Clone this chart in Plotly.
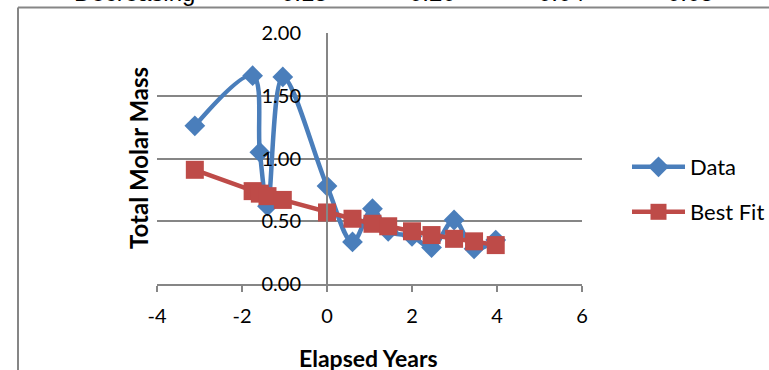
import plotly.graph_objects as go

# Elapsed years and total molar mass per sample
years = [-3.11, -1.75, -1.58, -1.40, -1.04, 0.00, 0.60, 1.07, 1.44, 2.00, 2.46, 2.99, 3.46, 3.97]
molar_mass = [1.26, 1.66, 1.05, 0.62, 1.65, 0.78, 0.335, 0.60, 0.42, 0.38, 0.29, 0.51, 0.28, 0.35]

# Exponential best-fit values at the same elapsed years
best_fit = [0.91, 0.74, 0.72, 0.70, 0.67, 0.57, 0.52, 0.48, 0.46, 0.42, 0.39, 0.36, 0.34, 0.31]

# Summary row of the sheet above the chart
header_cells = ["Decreasing", "0.15", "0.20", "0.04", "0.05"]
header_x_px = [134, 304, 432, 561, 690]

x_ticks = [-4, -2, 0, 2, 4, 6]
y_ticks = [0.0, 0.5, 1.0, 1.5, 2.0]

W, H = 769, 370
L, R, T, B = 157, 187, 33, 86
PW, PH = W - L - R, H - T - B


def px_x(px):
    return (px - L) / PW


def px_y(py):
    return (H - B - py) / PH


BLUE = "#4A7EBB"
RED = "#BE4B48"
GRID = "#868686"
FONT = "Lato"

fig = go.Figure()
fig.add_trace(go.Scatter(
    x=years, y=molar_mass, name="Data", mode="lines+markers",
    line=dict(color=BLUE, width=4.5, shape="spline", smoothing=1),
    marker=dict(symbol="diamond", size=16, color=BLUE),
    cliponaxis=False, legend="legend", showlegend=True,
))
fig.add_trace(go.Scatter(
    x=years, y=best_fit, name="Best Fit", mode="lines+markers",
    line=dict(color=RED, width=4.5),
    marker=dict(symbol="square", size=18, color=RED),
    cliponaxis=False, legend="legend2", showlegend=True,
))

annotations = []
for txt, xp in zip(header_cells, header_x_px):
    annotations.append(dict(
        text=txt, x=px_x(xp), y=px_y(-7.5), xref="paper", yref="paper",
        xanchor="center", yanchor="middle", showarrow=False,
        font=dict(family="Liberation Sans", size=24, color="black"),
    ))
annotations.append(dict(
    text="<b>Total Molar Mass</b>", x=px_x(138), y=px_y(158),
    xref="paper", yref="paper", textangle=-90, showarrow=False,
    xanchor="center", yanchor="middle",
    font=dict(family=FONT, size=24, color="black"),
))
annotations.append(dict(
    text="<b>Elapsed Years</b>", x=px_x(368), y=px_y(358),
    xref="paper", yref="paper", showarrow=False,
    xanchor="center", yanchor="middle",
    font=dict(family=FONT, size=23, color="black"),
))

# Chart frame (left and top edges)
shapes = [
    dict(type="line", xref="paper", yref="paper",
         x0=px_x(18), x1=px_x(18), y0=px_y(400), y1=px_y(7.5),
         line=dict(color=GRID, width=2)),
    dict(type="line", xref="paper", yref="paper",
         x0=px_x(18), x1=px_x(800), y0=px_y(7.5), y1=px_y(7.5),
         line=dict(color=GRID, width=2)),
]

legend_common = dict(
    xanchor="left", yanchor="middle", bgcolor="rgba(0,0,0,0)",
    font=dict(family=FONT, size=22, color="black"), itemwidth=53,
)

fig.update_layout(
    width=W, height=H,
    margin=dict(l=L, r=R, t=T, b=B, autoexpand=False),
    showlegend=True,
    paper_bgcolor="white", plot_bgcolor="white",
    font=dict(family=FONT, color="black"),
    xaxis=dict(
        range=[-4, 6], tickvals=x_ticks, ticktext=[str(v) for v in x_ticks],
        showgrid=False, zeroline=False,
        showline=True, linecolor=GRID, linewidth=2,
        ticks="outside", ticklen=6, tickwidth=2, tickcolor=GRID,
        tickfont=dict(family=FONT, size=20, color="black"),
        ticklabelstandoff=7, automargin=False,
    ),
    yaxis=dict(
        range=[0, 2], tickvals=y_ticks, ticktext=[f"{v:.2f}" for v in y_ticks],
        anchor="free", position=px_x(327),
        showgrid=True, gridcolor=GRID, gridwidth=1.5,
        zeroline=False, showline=True, linecolor=GRID, linewidth=2,
        ticks="", tickfont=dict(family=FONT, size=20, color="black"),
        ticklabelstandoff=21, automargin=False,
    ),
    legend=dict(x=px_x(627), y=px_y(167), **legend_common),
    legend2=dict(x=px_x(627), y=px_y(212), **legend_common),
    annotations=annotations,
    shapes=shapes,
)

fig.write_html("out.html")
